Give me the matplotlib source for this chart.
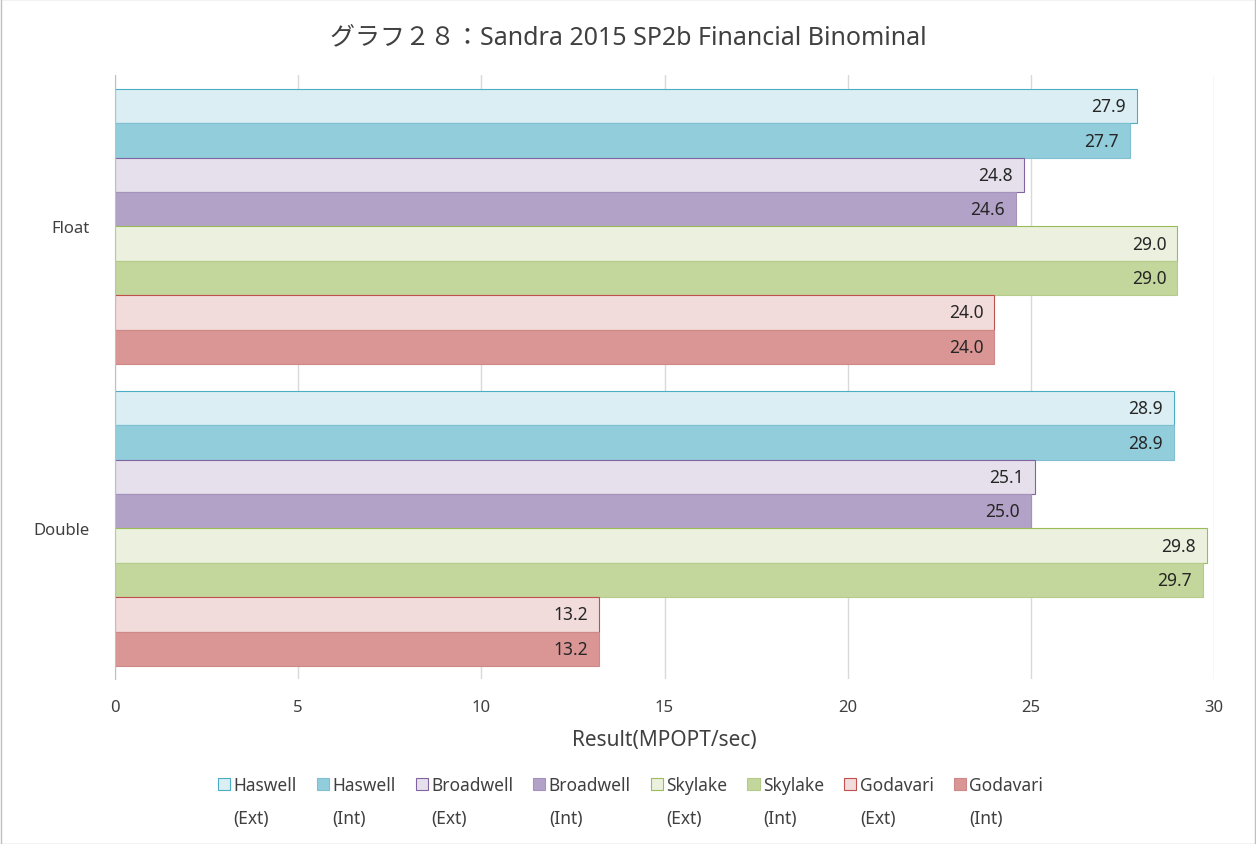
import matplotlib.pyplot as plt
import numpy as np

plt.rcParams['font.family'] = ['Noto Sans', 'Noto Sans CJK JP', 'DejaVu Sans']

categories = ['Float', 'Double']
series = ['Haswell', 'Haswell', 'Broadwell', 'Broadwell',
          'Skylake', 'Skylake', 'Godavari', 'Godavari']
kinds = ['(Ext)', '(Int)', '(Ext)', '(Int)', '(Ext)', '(Int)', '(Ext)', '(Int)']
values = [
    [27.9, 28.9],
    [27.7, 28.9],
    [24.8, 25.1],
    [24.6, 25.0],
    [29.0, 29.8],
    [29.0, 29.7],
    [24.0, 13.2],
    [24.0, 13.2],
]
fills = ['#DAEEF3', '#92CDDC', '#E6E0EC', '#B3A2C7',
         '#EBF1DE', '#C3D69B', '#F2DCDB', '#D99694']
edges = ['#4BACC6', '#7FBFD0', '#8064A2', '#A592BC',
         '#9BBB59', '#B5CB8A', '#C0504D', '#CE8886']

fig = plt.figure(figsize=(12.56, 8.45), dpi=100)
ax = fig.add_axes([0.0916, 0.1947, 0.875, 0.7148])

n = len(series)
group = 0.91
h = group / n
for i in range(n):
    ypos = np.arange(len(categories)) - group / 2 + h * (i + 0.5)
    bars = ax.barh(ypos, values[i], height=h, color=fills[i], edgecolor=edges[i],
                   linewidth=0.8, label=series[i], zorder=3)
    for b, v in zip(bars, values[i]):
        ax.text(v - 0.3, b.get_y() + b.get_height() / 2, f'{v:.1f}',
                ha='right', va='center', fontsize=12.5, color='#262626', zorder=4)

ax.set_ylim(1.5, -0.5)
ax.set_xlim(0, 30)
ax.set_xticks(range(0, 31, 5))
ax.set_yticks(range(len(categories)))
ax.set_yticklabels(categories)
ax.tick_params(axis='both', length=0, labelsize=12, colors='#404040')
ax.tick_params(axis='x', pad=14)
ax.tick_params(axis='y', pad=18)
ax.grid(axis='x', color='#D9D9D9', linewidth=1, zorder=0)
for s in ['top', 'right', 'bottom']:
    ax.spines[s].set_visible(False)
ax.spines['left'].set_color('#BFBFBF')
ax.spines['left'].set_zorder(5)

ax.set_xlabel('Result(MPOPT/sec)', fontsize=15, color='#404040', labelpad=10)
fig.suptitle('グラフ２８：Sandra 2015 SP2b Financial Binominal', fontsize=18,
             color='#404040', y=0.97)

leg = fig.legend(loc='center', bbox_to_anchor=(0.502, 0.07), ncol=n, frameon=False,
                 fontsize=12.5, handlelength=0.7, handleheight=0.7, handletextpad=0.2,
                 columnspacing=1.15, labelcolor='#404040')

# second line of each legend label, under the first
fig.canvas.draw()
inv = fig.transFigure.inverted()
for t, k in zip(leg.get_texts(), kinds):
    bb = t.get_window_extent()
    x0, _ = inv.transform((bb.x0, bb.y0))
    fig.text(x0, 0.031, k, ha='left', va='center', fontsize=12.5, color='#404040')

fig.patches.append(plt.Rectangle((0.0005, 0.0005), 0.999, 0.999, transform=fig.transFigure,
                                 fill=False, edgecolor='#BFBFBF', linewidth=1))

fig.savefig('out.png', dpi=100)
